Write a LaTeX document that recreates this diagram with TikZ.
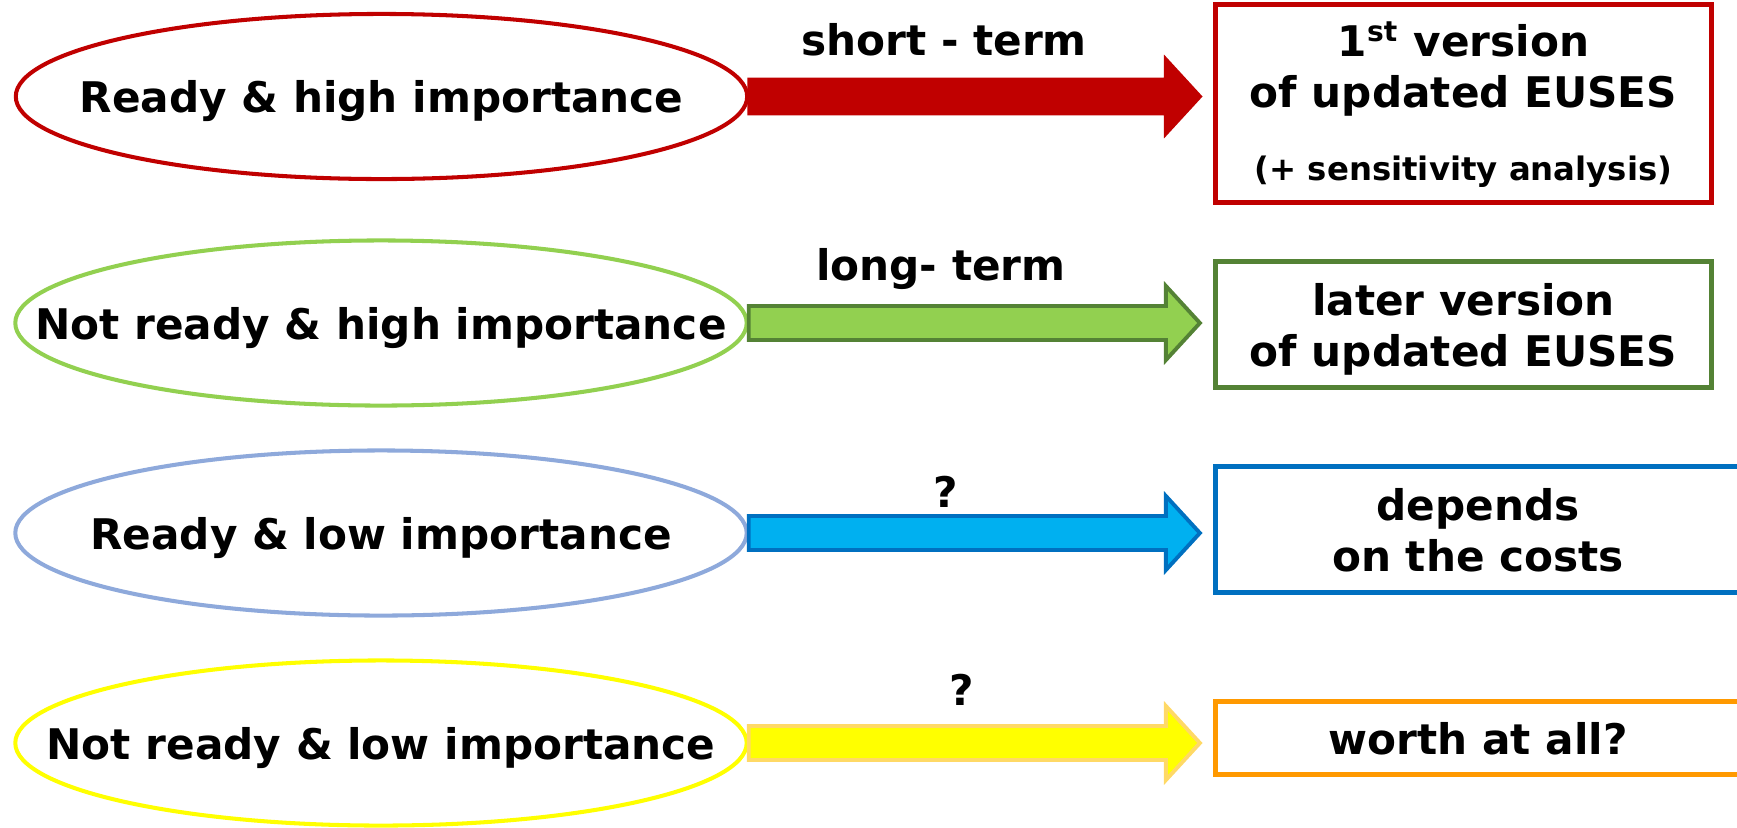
\documentclass[tikz,border=0pt]{standalone}
\usepackage{fontspec}
\setmainfont{DejaVu Sans}
\usetikzlibrary{shapes,calc,positioning}
\definecolor{stRed}{HTML}{C00000}
\definecolor{ltGreen}{HTML}{92D050}
\definecolor{dkGreen}{HTML}{548235}
\definecolor{ltBlue}{HTML}{8EA9DB}
\definecolor{skyBlue}{HTML}{00B0F0}
\definecolor{dkBlue}{HTML}{0070C0}
\definecolor{ltYellow}{HTML}{FFFF00}
\definecolor{paleGold}{HTML}{FFD966}
\definecolor{dkOrange}{HTML}{FF9900}
\tikzset{case node/.style={ellipse, draw=#1, line width=1.15pt, fill=white,
    minimum width=7.31cm, minimum height=1.65cm, inner xsep=-1.2cm, inner ysep=0pt,
    text depth=0pt, font=\fontsize{12}{14.5}\selectfont\bfseries}}
\tikzset{result node/.style={rectangle, draw=#1, line width=1.4pt, inner sep=0pt,
    align=center, text depth=0pt, font=\fontsize{12}{14.5}\selectfont\bfseries}}
\tikzset{term label/.style={anchor=base, inner sep=0pt,
    font=\fontsize{12}{14.5}\selectfont\bfseries}}
\tikzset{fat arrow/.style={line width=1.1pt, line join=miter, to path={
    ($(\tikztostart)+(0,-17)$) -- ($(\tikztotarget)+(-47,-17)$)
    -- ($(\tikztotarget)+(-47,-37)$) -- ($(\tikztotarget)+(-13,0)$)
    -- ($(\tikztotarget)+(-47,37)$) -- ($(\tikztotarget)+(-47,17)$)
    -- ($(\tikztostart)+(0,17)$) -- cycle}}}

\begin{document}
\begin{tikzpicture}[x=0.01cm, y=-0.01cm]
  \useasboundingbox (0,0) rectangle (1737,827);

  % left column: readiness / importance
  \node [case node=stRed]    (readyHigh)    at (381.5, 96.5) {Ready \& high importance};
  \node [case node=ltGreen]  (notReadyHigh) at (381, 323)    {Not ready \& high importance};
  \node [case node=ltBlue]   (readyLow)     at (381, 533)    {Ready \& low importance};
  \node [case node=ltYellow] (notReadyLow)  at (381, 743)    {Not ready \& low importance};

  % right column: outcome
  \node [result node=stRed, minimum width=4.96cm, minimum height=1.98cm, text depth=1.2pt] (firstVer) at (1463.5, 103.5)
        {1\textsuperscript{st} version\\ of updated EUSES\\[6.3pt]{\fontsize{9.2}{11}\selectfont(+ sensitivity analysis)}};
  \node [result node=dkGreen, minimum width=4.96cm, minimum height=1.26cm] (laterVer) at (1463.5, 324.5)
        {later version\\ of updated EUSES};
  \node [result node=dkBlue, minimum width=5.25cm, minimum height=1.26cm] (costs) at (1478, 529.5)
        {depends\\ on the costs};
  \node [result node=dkOrange, minimum width=5.25cm, minimum height=0.73cm] (worth) at (1478, 738)
        {worth at all?};

  \coordinate (tipFirst) at (readyHigh.east -| firstVer.west);
  \coordinate (tipLater) at (notReadyHigh.east -| laterVer.west);
  \coordinate (tipCosts) at (readyLow.east -| costs.west);
  \coordinate (tipWorth) at (notReadyLow.east -| worth.west);

  \filldraw [fat arrow, fill=stRed, draw=stRed]       (readyHigh.east)    to (tipFirst);
  \filldraw [fat arrow, fill=ltGreen, draw=dkGreen]   (notReadyHigh.east) to (tipLater);
  \filldraw [fat arrow, fill=skyBlue, draw=dkBlue]    (readyLow.east)     to (tipCosts);
  \filldraw [fat arrow, fill=ltYellow, draw=paleGold] (notReadyLow.east)  to (tipWorth);

  \node [term label] (shortTerm) at (944, 55)  {short - term};
  \node [term label] (longTerm)  at (941, 280) {long- term};
  \node [term label] (askCosts)  at (946, 507) {?};
  \node [term label] (askWorth)  at (962, 705) {?};
\end{tikzpicture}
\end{document}
